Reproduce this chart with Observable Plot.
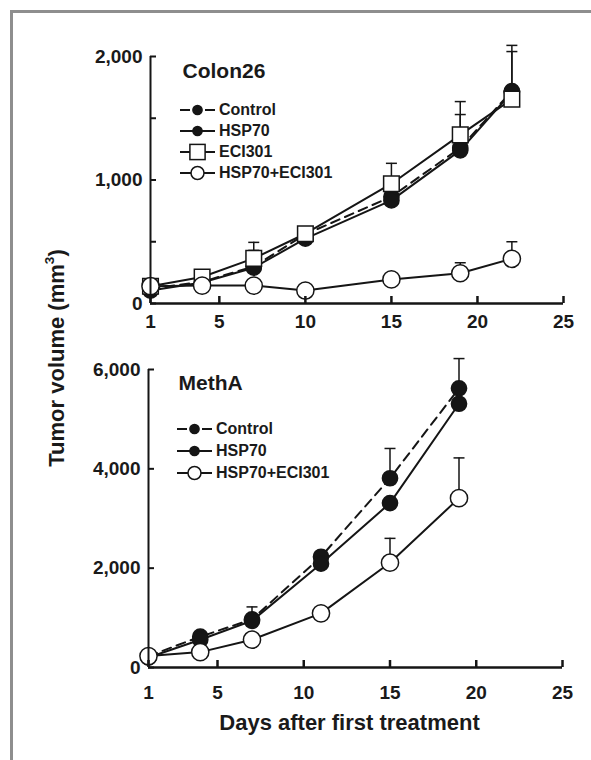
<!DOCTYPE html>
<html><head><meta charset="utf-8">
<script src="https://cdn.jsdelivr.net/npm/d3@7"></script>
<script src="https://cdn.jsdelivr.net/npm/@observablehq/plot@0.6"></script>
<style>
body{margin:0;background:#fff;}
#wrap{position:relative;width:591px;height:760px;overflow:hidden;font-family:"Liberation Sans",Arial,Helvetica,sans-serif;color:#1a1a1a;}
#frame{position:absolute;left:10px;top:10px;width:700px;height:900px;border-left:3px solid #8e8e8e;border-top:3px solid #8e8e8e;z-index:5;}
.panel{position:absolute;left:0;}
#ytitle{position:absolute;left:57px;top:358px;transform:translate(-50%,-50%) rotate(-90deg);font-weight:bold;font-size:22px;white-space:nowrap;}
#ytitle sup{font-size:0.62em;line-height:0;position:relative;top:-0.1em;}
.legend{position:absolute;font-weight:bold;font-size:16px;}
.legend .row{position:absolute;left:0;height:20px;display:flex;align-items:center;white-space:nowrap;}
.legend .row svg{display:block;margin-right:3px;}
</style></head>
<body>
<div id="wrap">
  <div id="frame"></div>
  <div id="ytitle">Tumor volume (mm<sup>3</sup>)</div>
</div>
<script>
// ---------- data ----------
const colonDays = [1, 4, 7, 10, 15, 19, 22];
const colonControl = [120, 175, 300, 560, 865, 1260, 1720];
const colonHSP70 = [105, 170, 290, 525, 835, 1240, 1712];
const colonECI301 = [140, 215, 365, 565, 970, 1365, 1655];
const colonCombo = [140, 145, 145, 105, 195, 245, 362];
const colonControlErr = [null, null, 430, null, null, 1530, 2040];
const colonHSP70Err = [null, null, null, null, null, null, null];
const colonECI301Err = [null, null, 495, null, 1135, 1635, 2090];
const colonComboErr = [null, null, null, null, null, 330, 500];

const methDays = [1, 4, 7, 11, 15, 19];
const methControl = [230, 620, 970, 2230, 3810, 5620];
const methHSP70 = [200, 560, 940, 2090, 3310, 5310];
const methCombo = [230, 310, 560, 1090, 2110, 3410];
const methControlErr = [null, null, 1220, null, 4410, 6220];
const methHSP70Err = [null, null, null, null, null, null];
const methComboErr = [null, null, null, null, 2600, 4220];

const xTicks = [1, 5, 10, 15, 20, 25];
const colonYTicks = [0, 500, 1000, 1500, 2000];
const colonYLabels = [0, 1000, 2000];
const methYTicks = [0, 2000, 4000, 6000];
const methYLabels = [0, 2000, 4000, 6000];

const colonLegend = ["Control", "HSP70", "ECI301", "HSP70+ECI301"];
const methLegend = ["Control", "HSP70", "HSP70+ECI301"];

// ---------- styles ----------
const ink = "#151515";
const styleOf = {
  "Control": {dash: "9,6", symbol: "circle", fill: ink, r: 7.6, lr: 4.6},
  "HSP70": {dash: null, symbol: "circle", fill: ink, r: 7.6, lr: 4.6},
  "ECI301": {dash: null, symbol: "square", fill: "#fff", r: 8.8, lr: 7.6},
  "HSP70+ECI301": {dash: null, symbol: "circle", fill: "#fff", r: 8.6, lr: 6.5}
};
const capSymbol = {draw(ctx, size) { const w = Math.sqrt(size / Math.PI); ctx.moveTo(-w, 0); ctx.lineTo(w, 0); }};
const fmt = d3.format(",");

function panel(o) {
  const rows = o.series.flatMap(s => o.days.map((d, i) => ({name: s.name, day: d, v: s.values[i], err: s.err[i]})));
  const errRows = rows.filter(r => r.err != null);
  const marks = [
    Plot.ruleX(errRows, {x: "day", y1: "v", y2: "err", stroke: ink, strokeWidth: 1.5}),
    Plot.dot(errRows, {x: "day", y: "err", symbol: capSymbol, r: 5.5, stroke: ink, strokeWidth: 1.5, fill: "none"}),
    ...o.series.map(s => Plot.line(rows.filter(r => r.name === s.name), {x: "day", y: "v", stroke: ink, strokeWidth: 2, strokeDasharray: styleOf[s.name].dash})),
    ...o.series.map(s => Plot.dot(rows.filter(r => r.name === s.name), {x: "day", y: "v", symbol: styleOf[s.name].symbol, r: styleOf[s.name].r, fill: styleOf[s.name].fill, stroke: ink, strokeWidth: 1.5})),
    Plot.ruleX([1], {stroke: ink, strokeWidth: 2}),
    Plot.ruleY([0], {stroke: ink, strokeWidth: 2.5}),
    Plot.axisY({ticks: o.yTicks, tickSize: -6, tickPadding: 14, strokeWidth: 2, stroke: ink,
      tickFormat: d => o.yLabels.includes(d) ? fmt(d) : "", fontSize: 19, fontWeight: "bold"}),
    Plot.axisX({ticks: xTicks, tickSize: -7, tickPadding: o.xPad, strokeWidth: 2.5, stroke: ink,
      tickFormat: d => String(d), fontSize: 19, fontWeight: "bold"}),
    Plot.text([o.title], {text: d => d, frameAnchor: "top-left", dx: o.titleDx, dy: o.titleDy, textAnchor: "start", lineAnchor: "middle", fontSize: 21, fontWeight: "bold", fill: "#1a1a1a"})
  ];
  if (o.xTitle) marks.push(Plot.text([o.xTitle], {text: d => d, frameAnchor: "bottom", dx: -6, dy: 55, lineAnchor: "middle", fontSize: 22, fontWeight: "bold", fill: "#1a1a1a"}));
  return Plot.plot({
    width: 591, height: o.height,
    marginTop: o.mt, marginBottom: o.mb, marginLeft: o.ml, marginRight: o.mr,
    x: {domain: [1, 25], label: null},
    y: {domain: [0, o.yMax], label: null},
    style: {fontFamily: "'Liberation Sans', Arial, sans-serif", color: "#1a1a1a", background: "transparent", overflow: "visible"},
    marks
  });
}

function legend(names, left, centers) {
  const div = document.createElement("div");
  div.className = "legend";
  div.style.left = left + "px"; div.style.top = "0px";
  names.forEach((n, i) => {
    const st = styleOf[n];
    const row = document.createElement("div");
    row.className = "row";
    row.style.top = (centers[i] - 10) + "px";
    const svg = d3.create("svg").attr("width", 36).attr("height", 20);
    svg.append("line").attr("x1", 0).attr("x2", 35).attr("y1", 10).attr("y2", 10)
      .attr("stroke", ink).attr("stroke-width", 2).attr("stroke-dasharray", st.dash ? "10,15" : null);
    if (st.symbol === "square") {
      svg.append("rect").attr("x", 17.5 - st.lr).attr("y", 10 - st.lr).attr("width", 2 * st.lr).attr("height", 2 * st.lr)
        .attr("fill", st.fill).attr("stroke", ink).attr("stroke-width", 1.5);
    } else {
      svg.append("circle").attr("cx", 17.5).attr("cy", 10).attr("r", st.lr)
        .attr("fill", st.fill).attr("stroke", ink).attr("stroke-width", 1.5);
    }
    row.appendChild(svg.node());
    const t = document.createElement("span"); t.textContent = n; row.appendChild(t);
    div.appendChild(row);
  });
  return div;
}

const wrap = document.getElementById("wrap");
const p1 = panel({
  days: colonDays,
  series: [
    {name: "Control", values: colonControl, err: colonControlErr},
    {name: "HSP70", values: colonHSP70, err: colonHSP70Err},
    {name: "ECI301", values: colonECI301, err: colonECI301Err},
    {name: "HSP70+ECI301", values: colonCombo, err: colonComboErr}
  ],
  height: 340, mt: 56, mb: 37, ml: 150, mr: 28, yMax: 2000,
  yTicks: colonYTicks, yLabels: colonYLabels, xPad: 18,
  title: "Colon26", titleDx: 32, titleDy: 15
});
p1.classList.add("panel"); p1.style.top = "0px";
const p2 = panel({
  days: methDays,
  series: [
    {name: "Control", values: methControl, err: methControlErr},
    {name: "HSP70", values: methHSP70, err: methHSP70Err},
    {name: "HSP70+ECI301", values: methCombo, err: methComboErr}
  ],
  height: 420, mt: 29, mb: 93, ml: 148, mr: 29, yMax: 6000,
  yTicks: methYTicks, yLabels: methYLabels, xPad: 25,
  title: "MethA", titleDx: 30, titleDy: 14, xTitle: "Days after first treatment"
});
p2.classList.add("panel"); p2.style.top = "340px";
wrap.appendChild(p1);
wrap.appendChild(p2);
wrap.appendChild(legend(colonLegend, 180, [110, 131, 152, 173]));
wrap.appendChild(legend(methLegend, 177, [429, 451, 473]));
</script>
</body></html>
